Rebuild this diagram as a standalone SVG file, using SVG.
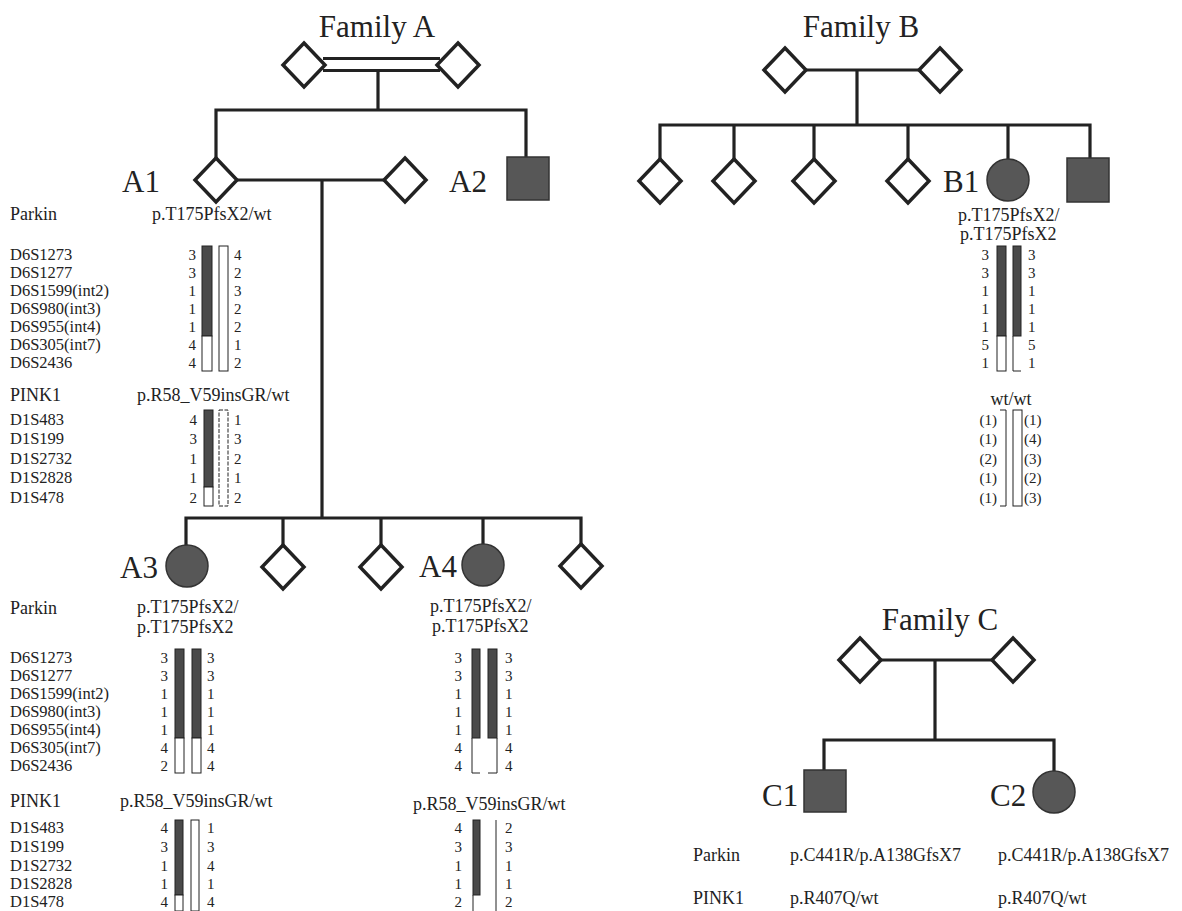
<svg xmlns="http://www.w3.org/2000/svg" width="1182" height="911" viewBox="0 0 1182 911">
<style>
text{font-family:"Liberation Serif","Times New Roman",serif;fill:#222}
.title{font-size:31px}
.id{font-size:31px}
.gene{font-size:18px}
.mk{font-size:16.5px}
.num{font-size:15px}
.end{text-anchor:end}
.mid{text-anchor:middle}
.un{fill:#fff;stroke:#222;stroke-width:3.5;stroke-linejoin:miter}
.af{fill:#575757;stroke:#333;stroke-width:1.5}
.ln{fill:none;stroke:#222;stroke-width:3.2}
.bf{fill:#4a4a4a;stroke:#222;stroke-width:1}
.bw{fill:#fff;stroke:#222;stroke-width:1}
.bo{fill:none;stroke:#222;stroke-width:1}
</style>
<defs>
<path id="dia" d="M0,-22 L21,0 L0,22 L-21,0 Z"/>
</defs>

<g id="connectors">
<!-- Family A -->
<line class="ln" x1="323" y1="58.5" x2="440" y2="58.5"/>
<line class="ln" x1="323" y1="70.5" x2="440" y2="70.5"/>
<polyline class="ln" points="378,71 378,110"/>
<polyline class="ln" points="216,158 216,110 526,110 526,157"/>
<line class="ln" x1="237" y1="180" x2="384" y2="180"/>
<polyline class="ln" points="322,180 322,518"/>
<polyline class="ln" points="186,546 186,518 581,518 581,544"/>
<line class="ln" x1="283" y1="518" x2="283" y2="545"/>
<line class="ln" x1="381" y1="518" x2="381" y2="545"/>
<line class="ln" x1="483" y1="518" x2="483" y2="544"/>
<!-- Family B -->
<line class="ln" x1="806" y1="70" x2="920" y2="70"/>
<line class="ln" x1="857" y1="70" x2="857" y2="125"/>
<polyline class="ln" points="660,159 660,125 1090,125 1090,159"/>
<line class="ln" x1="734" y1="125" x2="734" y2="159"/>
<line class="ln" x1="814" y1="125" x2="814" y2="159"/>
<line class="ln" x1="908" y1="125" x2="908" y2="159"/>
<line class="ln" x1="1008" y1="125" x2="1008" y2="159"/>
<!-- Family C -->
<line class="ln" x1="881" y1="660" x2="992" y2="660"/>
<line class="ln" x1="935" y1="660" x2="935" y2="740"/>
<polyline class="ln" points="824,771 824,740 1054,740 1054,771"/>
</g>

<g id="family-A">
<text class="title mid" x="377" y="37">Family A</text>
<g id="A-gf"><use href="#dia" class="un" x="304" y="65"/></g>
<g id="A-gm"><use href="#dia" class="un" x="458" y="65"/></g>
<g id="A1"><use href="#dia" class="un" x="216" y="180"/><text class="id" x="122" y="192">A1</text></g>
<g id="A1-spouse"><use href="#dia" class="un" x="405" y="180"/></g>
<g id="A2"><rect class="af" x="507" y="157" width="42" height="43"/><text class="id" x="449" y="192">A2</text></g>
<g id="A3"><circle class="af" cx="187" cy="566" r="21"/><text class="id" x="120" y="578">A3</text></g>
<g id="A-sib2"><use href="#dia" class="un" x="283" y="567"/></g>
<g id="A-sib3"><use href="#dia" class="un" x="381" y="567"/></g>
<g id="A4"><circle class="af" cx="483" cy="565" r="21"/><text class="id" x="419" y="577">A4</text></g>
<g id="A-sib5"><use href="#dia" class="un" x="581" y="566"/></g>
</g>

<g id="family-B">
<text class="title mid" x="861" y="37">Family B</text>
<g id="B-f"><use href="#dia" class="un" x="785" y="70"/></g>
<g id="B-m"><use href="#dia" class="un" x="940" y="70"/></g>
<g id="B-s1"><use href="#dia" class="un" x="660" y="181"/></g>
<g id="B-s2"><use href="#dia" class="un" x="734" y="181"/></g>
<g id="B-s3"><use href="#dia" class="un" x="814" y="181"/></g>
<g id="B-s4"><use href="#dia" class="un" x="908" y="181"/></g>
<g id="B1"><circle class="af" cx="1008" cy="180" r="21"/><text class="id" x="943" y="192">B1</text></g>
<g id="B-s6"><rect class="af" x="1067" y="158" width="42" height="44"/></g>
</g>

<g id="family-C">
<text class="title mid" x="940" y="630">Family C</text>
<g id="C-f"><use href="#dia" class="un" x="860" y="660"/></g>
<g id="C-m"><use href="#dia" class="un" x="1013" y="660"/></g>
<g id="C1"><rect class="af" x="804" y="770" width="42" height="42"/><text class="id" x="762" y="806">C1</text></g>
<g id="C2"><circle class="af" cx="1054" cy="792" r="21"/><text class="id" x="990" y="806">C2</text></g>
</g>

<!-- A1 haplotypes -->
<g id="A1-haplo">
<text class="gene" x="10" y="220">Parkin</text>
<text class="gene" x="152" y="220">p.T175PfsX2/wt</text>
<g class="mk">
<text x="10" y="260">D6S1273</text><text x="10" y="278">D6S1277</text><text x="10" y="296">D6S1599(int2)</text><text x="10" y="314">D6S980(int3)</text><text x="10" y="332">D6S955(int4)</text><text x="10" y="350">D6S305(int7)</text><text x="10" y="368">D6S2436</text>
</g>
<g class="num end">
<text x="196" y="260">3</text><text x="196" y="278">3</text><text x="196" y="296">1</text><text x="196" y="314">1</text><text x="196" y="332">1</text><text x="196" y="350">4</text><text x="196" y="368">4</text>
</g>
<g class="num">
<text x="234" y="260">4</text><text x="234" y="278">2</text><text x="234" y="296">3</text><text x="234" y="314">2</text><text x="234" y="332">2</text><text x="234" y="350">1</text><text x="234" y="368">2</text>
</g>
<rect class="bf" x="202" y="246" width="10" height="90"/><rect class="bw" x="202" y="336" width="10" height="35"/>
<rect class="bw" x="219" y="246" width="9" height="125"/>
<text class="gene" x="10" y="401">PINK1</text>
<text class="gene" x="137" y="401">p.R58_V59insGR/wt</text>
<g class="mk">
<text x="10" y="425">D1S483</text><text x="10" y="444">D1S199</text><text x="10" y="464">D1S2732</text><text x="10" y="483">D1S2828</text><text x="10" y="503">D1S478</text>
</g>
<g class="num end">
<text x="197" y="425">4</text><text x="197" y="444">3</text><text x="197" y="464">1</text><text x="197" y="483">1</text><text x="197" y="503">2</text>
</g>
<g class="num">
<text x="234" y="425">1</text><text x="234" y="444">3</text><text x="234" y="464">2</text><text x="234" y="483">1</text><text x="234" y="503">2</text>
</g>
<rect class="bf" x="204" y="410" width="9" height="77"/><rect class="bw" x="204" y="487" width="9" height="19"/>
<rect class="bw" x="219" y="410" width="9" height="96" stroke-dasharray="4 1.5"/>
</g>

<!-- B1 haplotypes -->
<g id="B1-haplo">
<text class="gene" x="958" y="221">p.T175PfsX2/</text>
<text class="gene" x="960" y="240">p.T175PfsX2</text>
<g class="num end">
<text x="989" y="260">3</text><text x="989" y="278">3</text><text x="989" y="296">1</text><text x="989" y="314">1</text><text x="989" y="332">1</text><text x="989" y="350">5</text><text x="989" y="368">1</text>
</g>
<g class="num">
<text x="1028" y="260">3</text><text x="1028" y="278">3</text><text x="1028" y="296">1</text><text x="1028" y="314">1</text><text x="1028" y="332">1</text><text x="1028" y="350">5</text><text x="1028" y="368">1</text>
</g>
<rect class="bf" x="997" y="246" width="9" height="90"/><rect class="bw" x="997" y="336" width="9" height="35"/>
<rect class="bf" x="1013" y="246" width="8" height="90"/><polyline class="bo" points="1013,336 1013,371 1021,371"/>
<text class="gene mid" x="1011" y="405">wt/wt</text>
<g class="num end">
<text x="997" y="425">(1)</text><text x="997" y="444">(1)</text><text x="997" y="464">(2)</text><text x="997" y="483">(1)</text><text x="997" y="503">(1)</text>
</g>
<g class="num">
<text x="1024" y="425">(1)</text><text x="1024" y="444">(4)</text><text x="1024" y="464">(3)</text><text x="1024" y="483">(2)</text><text x="1024" y="503">(3)</text>
</g>
<polyline class="bo" points="1000,410 1006,410 1006,506 1000,506"/>
<rect class="bw" x="1013" y="410" width="9" height="96"/>
</g>

<!-- A3 haplotypes -->
<g id="A3-haplo">
<text class="gene" x="10" y="614">Parkin</text>
<text class="gene" x="137" y="613">p.T175PfsX2/</text>
<text class="gene" x="137" y="633">p.T175PfsX2</text>
<g class="mk">
<text x="10" y="663">D6S1273</text><text x="10" y="681">D6S1277</text><text x="10" y="699">D6S1599(int2)</text><text x="10" y="717">D6S980(int3)</text><text x="10" y="735">D6S955(int4)</text><text x="10" y="753">D6S305(int7)</text><text x="10" y="771">D6S2436</text>
</g>
<g class="num end">
<text x="168" y="663">3</text><text x="168" y="681">3</text><text x="168" y="699">1</text><text x="168" y="717">1</text><text x="168" y="735">1</text><text x="168" y="753">4</text><text x="168" y="771">2</text>
</g>
<g class="num">
<text x="207" y="663">3</text><text x="207" y="681">3</text><text x="207" y="699">1</text><text x="207" y="717">1</text><text x="207" y="735">1</text><text x="207" y="753">4</text><text x="207" y="771">4</text>
</g>
<rect class="bf" x="175" y="649" width="9" height="89"/><rect class="bw" x="175" y="738" width="9" height="35"/>
<rect class="bf" x="192" y="649" width="9" height="89"/><rect class="bw" x="192" y="738" width="9" height="35"/>
<text class="gene" x="10" y="807">PINK1</text>
<text class="gene" x="120" y="807">p.R58_V59insGR/wt</text>
<g class="mk">
<text x="10" y="833">D1S483</text><text x="10" y="852">D1S199</text><text x="10" y="871">D1S2732</text><text x="10" y="889">D1S2828</text><text x="10" y="907">D1S478</text>
</g>
<g class="num end">
<text x="168" y="833">4</text><text x="168" y="852">3</text><text x="168" y="871">1</text><text x="168" y="889">1</text><text x="168" y="907">4</text>
</g>
<g class="num">
<text x="207" y="833">1</text><text x="207" y="852">3</text><text x="207" y="871">4</text><text x="207" y="889">1</text><text x="207" y="907">4</text>
</g>
<rect class="bf" x="175" y="820" width="8" height="75"/><rect class="bw" x="175" y="895" width="8" height="16"/>
<rect class="bw" x="191" y="820" width="8" height="91"/>
</g>

<!-- A4 haplotypes -->
<g id="A4-haplo">
<text class="gene" x="430" y="612">p.T175PfsX2/</text>
<text class="gene" x="432" y="632">p.T175PfsX2</text>
<g class="num end">
<text x="462" y="663">3</text><text x="462" y="681">3</text><text x="462" y="699">1</text><text x="462" y="717">1</text><text x="462" y="735">1</text><text x="462" y="753">4</text><text x="462" y="771">4</text>
</g>
<g class="num">
<text x="505" y="663">3</text><text x="505" y="681">3</text><text x="505" y="699">1</text><text x="505" y="717">1</text><text x="505" y="735">1</text><text x="505" y="753">4</text><text x="505" y="771">4</text>
</g>
<rect class="bf" x="472" y="649" width="8" height="89"/><polyline class="bo" points="472,738 472,773 480,773"/>
<rect class="bf" x="488" y="649" width="9" height="89"/><polyline class="bo" points="488,773 497,773 497,738"/>
<text class="gene" x="413" y="810">p.R58_V59insGR/wt</text>
<g class="num end">
<text x="462" y="833">4</text><text x="462" y="852">3</text><text x="462" y="871">1</text><text x="462" y="889">1</text><text x="462" y="907">2</text>
</g>
<g class="num">
<text x="505" y="833">2</text><text x="505" y="852">3</text><text x="505" y="871">1</text><text x="505" y="889">1</text><text x="505" y="907">2</text>
</g>
<rect class="bf" x="473" y="820" width="7" height="75"/><polyline class="bo" points="473,895 473,911"/>
<line class="bo" x1="496" y1="820" x2="496" y2="911"/>
</g>

<!-- Family C genotypes -->
<g id="C-geno">
<text class="gene" x="693" y="861">Parkin</text>
<text class="gene" x="790" y="861">p.C441R/p.A138GfsX7</text>
<text class="gene" x="998" y="861">p.C441R/p.A138GfsX7</text>
<text class="gene" x="693" y="904">PINK1</text>
<text class="gene" x="790" y="904">p.R407Q/wt</text>
<text class="gene" x="998" y="904">p.R407Q/wt</text>
</g>
</svg>
